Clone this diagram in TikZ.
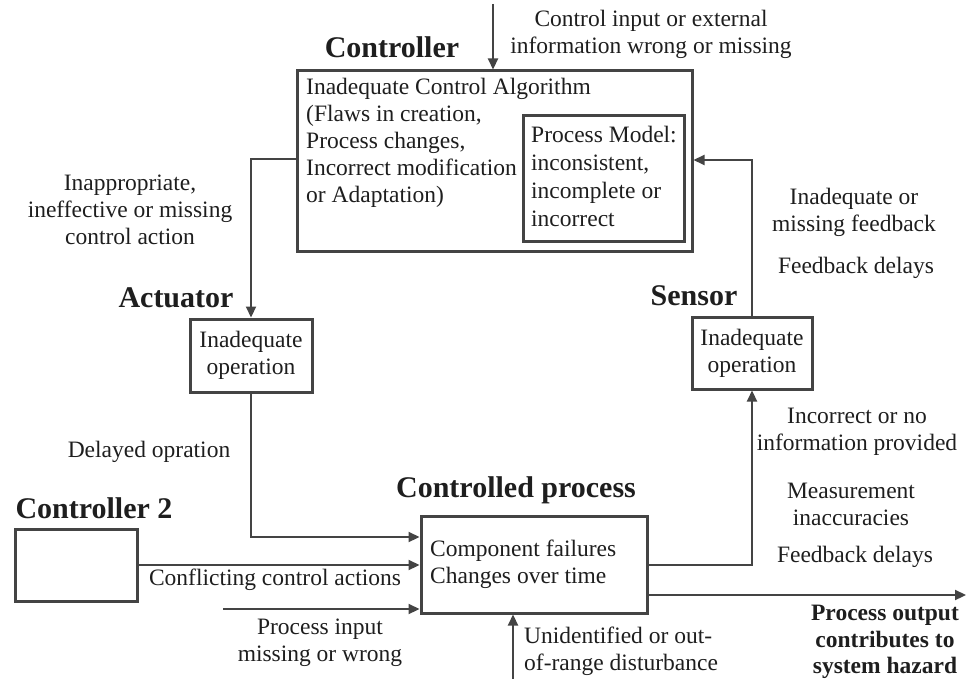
\documentclass[tikz,border=0pt]{standalone}
\usepackage{fontspec}
\setmainfont{Liberation Serif}
\usetikzlibrary{arrows.meta}
\definecolor{linec}{HTML}{444444}
\definecolor{txtc}{HTML}{1E1E1E}
\newcommand\bodysize{\fontsize{23.5}{27}\selectfont}
\newcommand\headsize{\fontsize{30}{34}\selectfont\bfseries}
\begin{document}
\begin{tikzpicture}[x=1pt,y=-1pt,
  box/.style={draw=linec, line width=3pt, inner sep=0pt, fill=white},
  conn/.style={draw=linec, line width=2.2pt},
  arr/.style={conn, -{Triangle[length=11pt,width=10pt]}},
  lbl/.style={inner sep=0pt, align=center, text=txtc, font=\bodysize},
  lblleft/.style={inner sep=0pt, align=left, text=txtc, font=\bodysize},
  head/.style={inner sep=0pt, anchor=base, text=txtc, font=\headsize},
  hazard/.style={inner sep=0pt, align=center, text=txtc, font=\fontsize{23.5}{26.5}\selectfont\bfseries}]
\useasboundingbox (0,0) rectangle (966,679);

% ---- blocks ----
\node[box, minimum width=395pt, minimum height=180pt] (ctrl) at (494.5,161) {};
\node[box, minimum width=161pt, minimum height=125pt] (pm) at (603.5,178.5) {};
\node[box, minimum width=122pt, minimum height=73pt] (act) at (251,355.5) {};
\node[box, minimum width=120pt, minimum height=72pt] (sens) at (752,353) {};
\node[box, minimum width=226pt, minimum height=97pt] (proc) at (534,564.5) {};
\node[box, minimum width=122pt, minimum height=72pt] (ctrltwo) at (76,565) {};

% ---- block titles ----
\node[head] (tctrl) at (392,58) {Controller};
\node[head] (tact) at (176,307) {Actuator};
\node[head] (tsens) at (694,305) {Sensor};
\node[head] (tproc) at (516,497) {Controlled process};
\node[head] (tctrltwo) at (94,518) {Controller 2};

% ---- block contents ----
\node[lblleft, anchor=west] (algo) at (306,143)
  {Inadequate Control Algorithm\\(Flaws in creation,\\Process changes,\\Incorrect modification\\or Adaptation)};
\node[lblleft, anchor=west, font=\fontsize{23.5}{28}\selectfont] (pmtxt) at (531,176)
  {Process Model:\\inconsistent,\\incomplete or\\incorrect};
\node[lbl] (acttxt) at (act) {Inadequate\\operation};
\node[lbl] (senstxt) at (sens) {Inadequate\\operation};
\node[lblleft, anchor=west] (proctxt) at (430,564) {Component failures\\Changes over time};

% ---- connectors ----
\coordinate (cin) at (493,4);
\draw[arr] (cin) -- (cin |- ctrl.north);
\draw[arr] (ctrl.west |- 0,159) -| (act.north);
\draw[arr] (act.south) |- (proc.west |- 0,537);
\draw[arr] (ctrltwo.east) -- (ctrltwo.east -| proc.west);
\coordinate (pin) at (223,609);
\draw[arr] (pin) -- (pin -| proc.west);
\coordinate (dist) at (513,679);
\draw[arr] (dist) -- (dist |- proc.south);
\coordinate (out) at (966,595);
\draw[arr] (proc.east |- out) -- (out);
\draw[arr] (proc.east |- 0,565) -| (sens.south);
\draw[arr] (sens.north) |- (ctrl.east |- 0,160);

% ---- connector labels ----
\node[lbl] (lcin) at (651,34) {Control input or external\\information wrong or missing};
\node[lbl] (lact) at (130,210) {Inappropriate,\\ineffective or missing\\control action};
\node[lbl] (ldelay) at (149,452) {Delayed opration};
\node[lbl] (lconf) at (275,580) {Conflicting control actions};
\node[lbl] (lpin) at (320,643) {Process input\\missing or wrong};
\node[lblleft, anchor=west] (ldist) at (524,651) {Unidentified or out-\\of-range disturbance};
\node[hazard] (lout) at (885,642) {Process output\\contributes to\\system hazard};
\node[lbl] (lfb) at (854,212) {Inadequate or\\missing feedback};
\node[lbl] (lfbd) at (856,268) {Feedback delays};
\node[lbl] (linfo) at (857,432) {Incorrect or no\\information provided};
\node[lbl] (lmeas) at (851,504) {Measurement\\inaccuracies};
\node[lbl] (lfbd2) at (855,557) {Feedback delays};
\end{tikzpicture}
\end{document}
